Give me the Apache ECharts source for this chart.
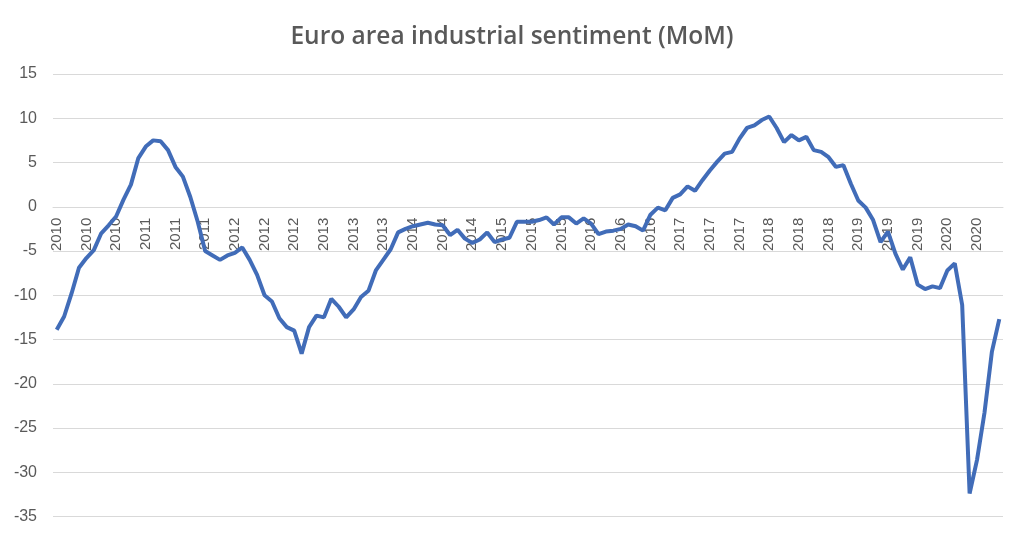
<!DOCTYPE html>
<html>
<head>
<meta charset="utf-8">
<script src="https://cdn.jsdelivr.net/npm/echarts@6/dist/echarts.min.js"></script>
<style>
  html, body { margin: 0; padding: 0; background: #fff; }
  #main { width: 1024px; height: 539px; }
</style>
</head>
<body>
<div id="main"></div>
<script>
// monthly readings, Jan 2010 .. Aug 2020
var sentiment = [
    -13.9, -12.4, -9.8, -6.9, -5.8, -4.9, -3.0, -2.1, -1.1, 0.8, 2.5, 5.5,
    6.8, 7.5, 7.4, 6.4, 4.5, 3.4, 1.1, -1.7, -5.0, -5.5, -6.0, -5.5,
    -5.2, -4.6, -6.0, -7.7, -10.0, -10.7, -12.6, -13.6, -14.0, -16.6, -13.6, -12.3,
    -12.5, -10.4, -11.3, -12.5, -11.6, -10.2, -9.5, -7.2, -6.0, -4.8, -2.9, -2.5,
    -2.2, -2.0, -1.8, -2.0, -2.1, -3.2, -2.6, -3.6, -4.1, -3.7, -2.9, -4.0,
    -3.7, -3.5, -1.7, -1.7, -1.7, -1.5, -1.2, -2.0, -1.2, -1.2, -1.9, -1.3,
    -1.9, -3.1, -2.8, -2.7, -2.5, -2.0, -2.2, -2.7, -0.9, -0.1, -0.4, 1.0,
    1.4, 2.3, 1.8, 3.0, 4.1, 5.1, 6.0, 6.2, 7.7, 8.9, 9.2, 9.8,
    10.2, 8.9, 7.3, 8.1, 7.5, 7.9, 6.4, 6.2, 5.6, 4.5, 4.7, 2.6,
    0.7, -0.1, -1.5, -4.0, -2.8, -5.3, -7.1, -5.7, -8.8, -9.3, -9.0, -9.2,
    -7.2, -6.4, -11.1, -32.4, -28.6, -23.3, -16.4, -12.7
]
var startYear = 2010
var yTicks = { min: -35, max: 15, step: 5 }

var months = []
for (var i = 0; i < sentiment.length; i++) {
    var y = startYear + Math.floor(i / 12)
    var m = (i % 12) + 1
    months.push(y + '-' + (m < 10 ? '0' + m : m))
}

var gridTop = 74
var gridBottom = 22.5
var plotHeight = 539 - gridTop - gridBottom
// the category labels sit on the zero line, like in Excel
var zeroOffset = plotHeight * (0 - yTicks.min) / (yTicks.max - yTicks.min)

var myChart = echarts.init(document.getElementById('main'))

var option = {
    animation: false,
    backgroundColor: '#ffffff',
    title: {
        text: 'Euro area industrial sentiment (MoM)',
        left: 'center',
        top: 20,
        textStyle: {
            fontFamily: 'Open Sans',
            fontWeight: 600,
            fontSize: 24.5,
            color: '#595959'
        }
    },
    grid: {
        left: 53,
        right: 21,
        top: gridTop,
        bottom: gridBottom,
        outerBoundsMode: 'none'
    },
    xAxis: {
        type: 'category',
        data: months,
        boundaryGap: true,
        position: 'bottom',
        offset: -zeroOffset,
        axisLine: { onZero: false, lineStyle: { color: '#d9d9d9' } },
        axisTick: { show: false },
        axisLabel: {
            interval: 3,
            rotate: 90,
            margin: 11,
            fontFamily: 'Liberation Sans',
            fontSize: 15,
            color: '#595959',
            formatter: function (v) { return v.slice(0, 4) }
        },
        splitLine: { show: false }
    },
    yAxis: {
        type: 'value',
        min: yTicks.min,
        max: yTicks.max,
        interval: yTicks.step,
        axisLine: { show: false },
        axisTick: { show: false },
        axisLabel: {
            margin: 16,
            fontFamily: 'Liberation Sans',
            fontSize: 16,
            color: '#595959'
        },
        splitLine: { lineStyle: { color: '#d9d9d9', width: 1 } }
    },
    series: [{
        name: 'Industrial sentiment',
        type: 'line',
        data: sentiment,
        showSymbol: false,
        lineStyle: { color: '#416cb8', width: 4 },
        itemStyle: { color: '#416cb8' }
    }]
}
myChart.setOption(option)
window.onresize = function () {
    myChart.resize()
}
</script>
</body>
</html>
